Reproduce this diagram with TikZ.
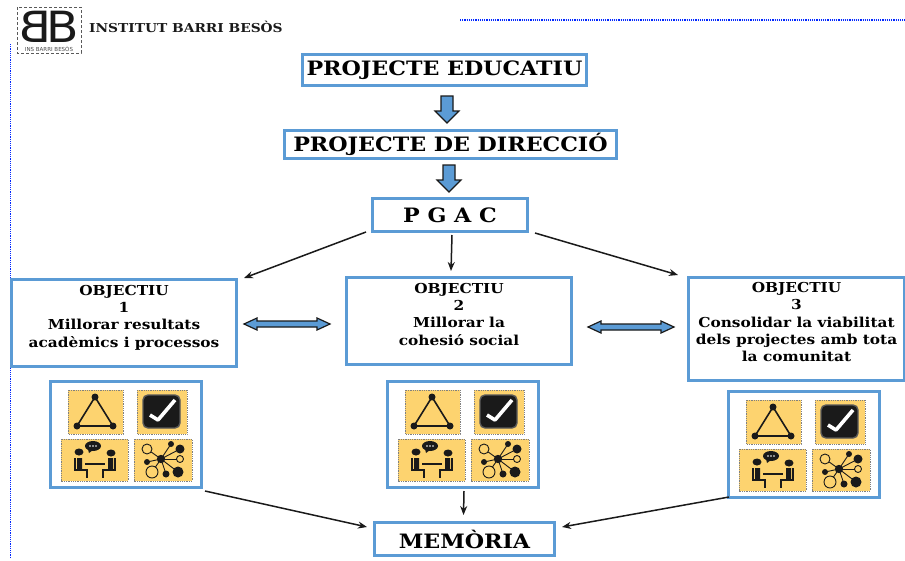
\documentclass[tikz,border=0pt]{standalone}
\usepackage{fontspec}
\usepackage{graphicx}
\setmainfont{DejaVu Serif}
\setsansfont{DejaVu Sans}
\newfontfamily\widefont[FakeStretch=1.12]{DejaVu Serif}
\newfontfamily\widesans[FakeStretch=1.1]{DejaVu Sans}
\usetikzlibrary{arrows.meta}
\definecolor{boxblue}{HTML}{5B9BD5}
\definecolor{tilefill}{HTML}{FDD36F}
\definecolor{iconblack}{HTML}{1A1A1A}
\tikzset{
  x=1pt,y=-1pt,
  bx/.style={draw=boxblue,line width=2.6pt,fill=white,inner sep=0pt,align=center},
  conn/.style={draw=iconblack,line width=1.5pt,-{Stealth[length=9pt,width=7pt]}},
  tile/.style={draw=gray,densely dotted,line width=0.8pt,fill=tilefill},
  blk/.style={fill=iconblack,draw=none},
  ln/.style={draw=iconblack,line width=1.3pt},
  blockarrow/.style={draw=iconblack,line width=1.2pt,fill=boxblue,line join=miter},
  blueline/.style={draw=blue!85!cyan,densely dotted,line width=1.2pt},
  bigtext/.style={font=\widefont\bfseries\fontsize{19.8}{22}\selectfont},
  smalltext/.style={font=\widefont\bfseries\fontsize{13.7}{17.3}\selectfont}
}
\newcommand{\boxnode}[7]{% name x0 y0 x1 y1 style text
  \node[bx,minimum width=#4pt-#2pt-2.6pt,minimum height=#5pt-#3pt-2.6pt,anchor=north west,#6] (#1) at (#2,#3) {#7};}
\newcommand{\downarrowat}[3]{% name x ytop
  \draw[blockarrow] (#2-6,#3) -- (#2+6,#3) -- (#2+6,#3+15) -- (#2+12,#3+15) -- (#2,#3+27) -- (#2-12,#3+15) -- (#2-6,#3+15) -- cycle;
  \coordinate (#1) at (#2,#3+13);}
\newcommand{\dblarrowat}[3]{% name xleft y
  \draw[blockarrow] (#2,#3) -- (#2+13,#3-6) -- (#2+13,#3-3) -- (#2+73,#3-3) -- (#2+73,#3-6) -- (#2+86,#3) -- (#2+73,#3+6) -- (#2+73,#3+3) -- (#2+13,#3+3) -- (#2+13,#3+6) -- cycle;
  \coordinate (#1) at (#2+43,#3);}
\newcommand{\icons}[3]{% name x y
  \begin{scope}[shift={(#2,#3)}]
    \node[bx,minimum width=151.4pt,minimum height=106.4pt,anchor=north west] (#1) at (0,0) {};
    \draw[tile] (19,10) rectangle (74,54);
    \draw[ln,line width=1.6pt] (46,17) -- (28,46) -- (64,46) -- cycle;
    \fill[blk] (46,17) circle (3.5pt) (28,46) circle (3.5pt) (64,46) circle (3.5pt);
    \draw[tile] (88,10) rectangle (138,54);
    \draw[draw=gray!70!black,line width=1.4pt,fill=iconblack,rounded corners=5pt] (94,15) rectangle (131,48);
    \draw[white,line width=3.6pt,line join=round] (101,35) -- (109,40) -- (126,20);
    \draw[tile] (12,59) rectangle (79,101);
    \fill[blk] (44,66) ellipse (8pt and 5pt);
    \fill[blk] (39,69) -- (40,73) -- (44,70) -- cycle;
    \foreach \k in {41,44,47} \fill[white] (\k,66) circle (0.9pt);
    \fill[blk] (30,72) ellipse (4.5pt and 3.5pt) (62,73) ellipse (4.5pt and 3.5pt);
    \fill[blk] (28,78) rectangle (33,90) (59,78) rectangle (64,90);
    \draw[ln,line width=2pt] (26,78) -- (26,90) -- (38,90) -- (38,98) (66,78) -- (66,90) -- (54,90) -- (54,98);
    \draw[ln] (36,84) -- (56,84);
    \draw[tile] (85,59) rectangle (143,101);
    \coordinate (hub) at (112,79);
    \foreach \a/\b in {98/69,122/64,131/69,131/79,98/82,103/92,117/94,129/92} \draw[ln,line width=0.9pt] (hub) -- (\a,\b);
    \fill[blk] (hub) circle (4.2pt);
    \draw[ln,line width=0.9pt,fill=tilefill] (98,69) circle (5pt) (131,79) circle (3.5pt) (103,92) circle (6pt);
    \fill[blk] (122,64) circle (3pt) (131,69) circle (4.5pt) (98,82) circle (3pt) (117,94) circle (3.5pt) (129,92) circle (5.5pt);
  \end{scope}}
\begin{document}
\begin{tikzpicture}
\useasboundingbox (0,0) rectangle (905,560);
\fill[white] (0,0) rectangle (905,560);
% frame traces
\draw[blueline] (10.5,44) -- (10.5,558);
\draw[blueline] (460,20) -- (905,20);
% logo
\draw[gray!70!black,densely dashed,line width=0.8pt] (17,7) rectangle (81,53);
\node[inner sep=0pt,font=\widesans\fontsize{43}{43}\selectfont,text=iconblack] (logoa) at (35,26.5) {\scalebox{-1}[1]{B}};
\node[inner sep=0pt,font=\widesans\fontsize{43}{43}\selectfont,text=iconblack] (logob) at (63,26.5) {B};
\node[inner sep=0pt,font=\sffamily\fontsize{5.5}{5.5}\selectfont,text=gray!60!black] (logoc) at (49,48.5) {INS BARRI BESÒS};
\node[anchor=west,inner sep=0pt,font=\widefont\bfseries\fontsize{12.3}{13}\selectfont,text=iconblack] (inst) at (89,27) {INSTITUT BARRI BESÒS};
% boxes
\boxnode{pe}{301}{53}{588}{87}{bigtext}{PROJECTE EDUCATIU}
\boxnode{pd}{283}{129}{618}{160}{bigtext}{PROJECTE DE DIRECCIÓ}
\boxnode{pg}{371}{197}{529}{233}{bigtext}{P G A C}
\boxnode{o1}{10}{278}{238}{368}{smalltext}{OBJECTIU\\1\\Millorar resultats\\acadèmics i processos\\[-3.3pt]}
\boxnode{o2}{345}{276}{573}{366}{smalltext}{OBJECTIU\\2\\Millorar la\\cohesió social\\[-3.3pt]}
\boxnode{o3}{687}{276}{906}{382}{smalltext}{OBJECTIU\\3\\Consolidar la viabilitat\\dels projectes amb tota\\la comunitat\\[-3.3pt]}
\boxnode{me}{373}{521}{556}{557}{bigtext}{MEMÒRIA}
\icons{i1}{49}{380}
\icons{i2}{386}{380}
\icons{i3}{727}{390}
% block arrows
\downarrowat{da1}{447}{96}
\downarrowat{da2}{449}{165}
\dblarrowat{db1}{244}{324}
\dblarrowat{db2}{588}{327}
% connectors
\draw[conn] ([xshift=-5pt,yshift=1pt]pg.south west) -- ([xshift=6pt,yshift=0pt]o1.north east);
\draw[conn] ([xshift=2pt,yshift=-2pt]pg.south) -- ([xshift=-8pt,yshift=5pt]o2.north);
\draw[conn] ([xshift=6pt]pg.south east) -- ([xshift=-9pt,yshift=1pt]o3.north west);
\draw[conn] ([xshift=2pt,yshift=-2pt]i1.south east) -- ([xshift=-6pt,yshift=-6pt]me.north west);
\draw[conn] ([xshift=1pt,yshift=-2pt]i2.south) -- ([xshift=-1pt,yshift=6pt]me.north);
\draw[conn] ([xshift=2pt,yshift=2pt]i3.south west) -- ([xshift=6pt,yshift=-6pt]me.north east);
\end{tikzpicture}
\end{document}
